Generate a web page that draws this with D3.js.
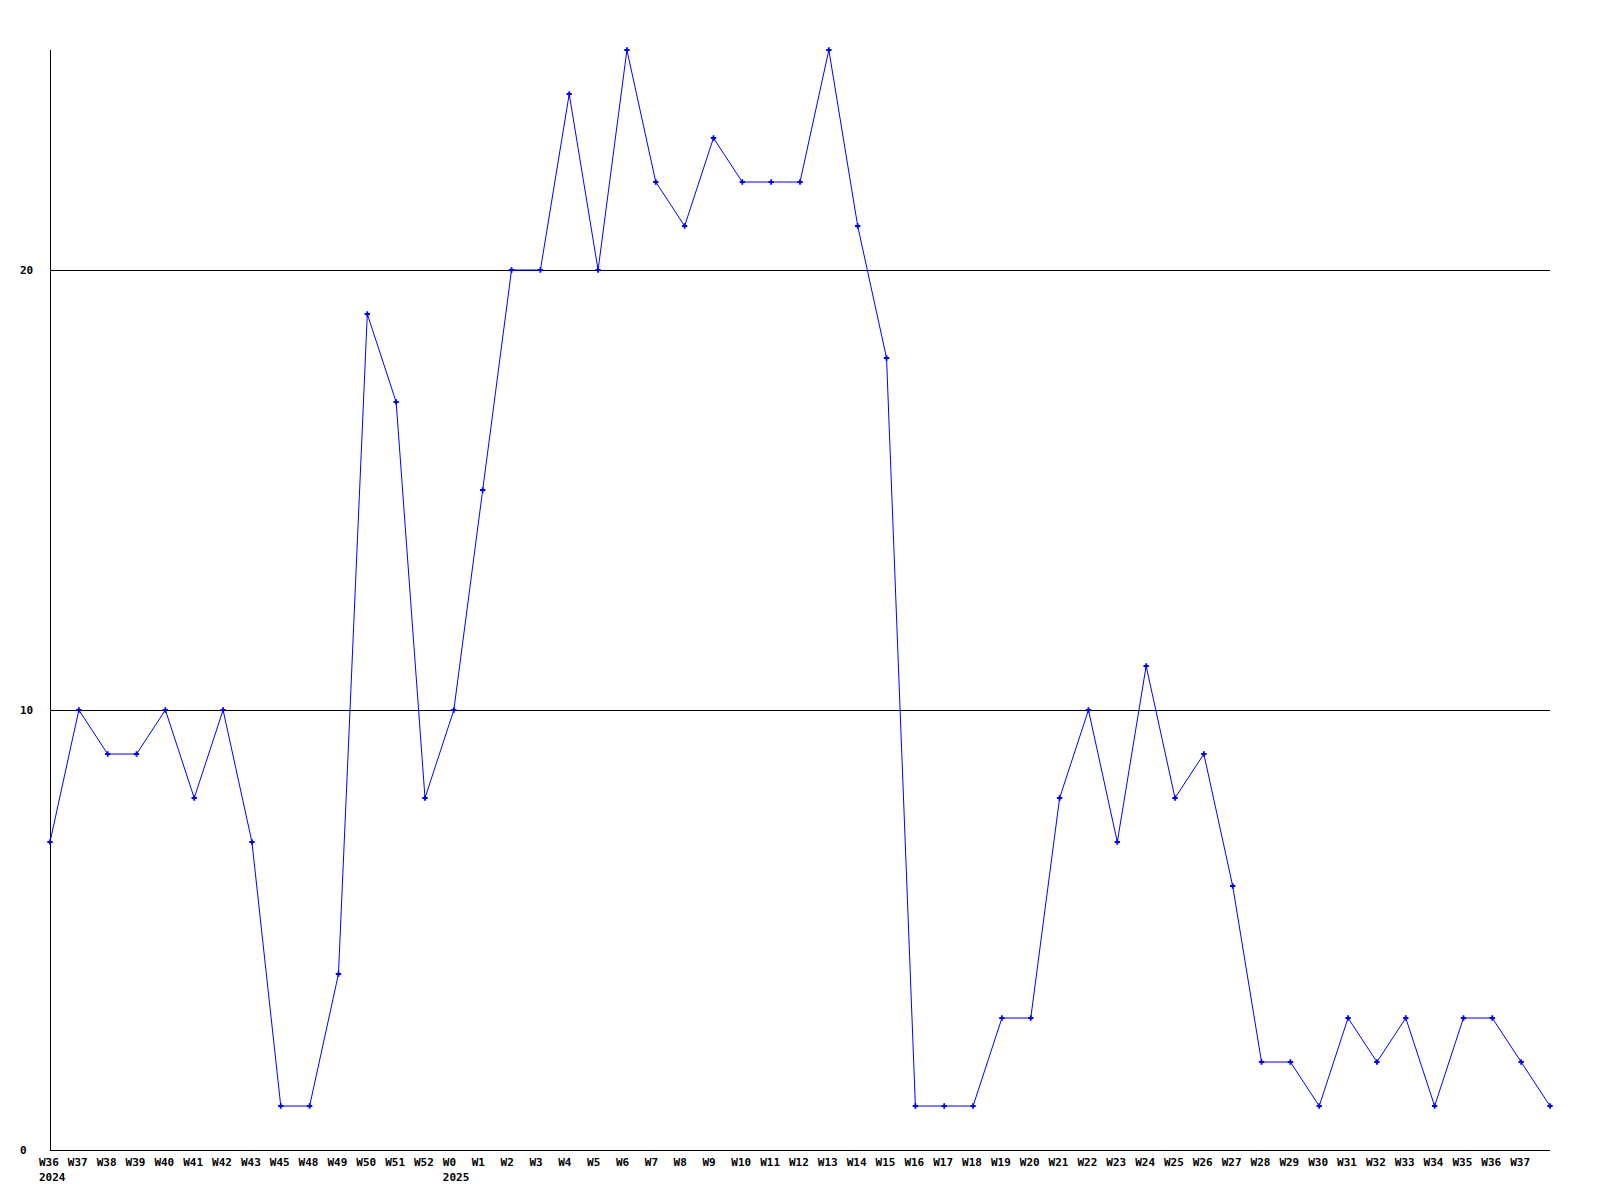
<!DOCTYPE html>
<html>
<head>
<meta charset="utf-8">
<script src="https://cdn.jsdelivr.net/npm/d3@7"></script>
<style>
  body { margin: 0; background: #fff; }
  text { font-family: "DejaVu Sans Mono", monospace; font-weight: bold; font-size: 11px; fill: #000; }
</style>
</head>
<body>
<div id="chart"></div>
<script>

// week labels, one per point (last point has no drawn label in the original)
var weeks = ["W36","W37","W38","W39","W40","W41","W42","W43","W45","W48","W49","W50","W51","W52",
             "W0","W1","W2","W3","W4","W5","W6","W7","W8","W9","W10","W11","W12","W13","W14","W15",
             "W16","W17","W18","W19","W20","W21","W22","W23","W24","W25","W26","W27","W28","W29",
             "W30","W31","W32","W33","W34","W35","W36","W37","W38"];

var counts = [7,10,9,9,10,8,10,7,1,1,4,19,17,8,
              10,15,20,20,24,20,25,22,21,23,22,22,22,25,21,18,
              1,1,1,3,3,8,10,7,11,8,9,6,2,2,
              1,3,2,3,1,3,3,2,1];

// year label goes under the week where the year starts
var yearIndex = [0, 14];
var yearText = ["2024", "2025"];

var yTicks = [0, 10, 20];
var gridValues = [10, 20];

var width = 1600, height = 1200;

var svg = d3.select('#chart').append('svg')
            .attr('width', width)
            .attr('height', height);

var x = d3.scalePoint()
          .domain(d3.range(weeks.length))
          .range([50, 1550]);

var y = d3.scaleLinear()
          .domain([0, 25])
          .range([1150, 50]);

// grid lines
svg.selectAll('.grid')
   .data(gridValues)
   .enter().append('line')
   .attr('x1', x(0)).attr('x2', x(weeks.length - 1))
   .attr('y1', function(d){ return y(d) + 0.5; })
   .attr('y2', function(d){ return y(d) + 0.5; })
   .attr('stroke', '#000')
   .attr('stroke-width', 1);

// axes lines
svg.append('line')
   .attr('x1', x(0) + 0.5).attr('x2', x(0) + 0.5)
   .attr('y1', y(25)).attr('y2', y(0))
   .attr('stroke', '#000');

svg.append('line')
   .attr('x1', x(0)).attr('x2', x(weeks.length - 1))
   .attr('y1', y(0) + 0.5).attr('y2', y(0) + 0.5)
   .attr('stroke', '#000');

// y labels
svg.selectAll('.ylab')
   .data(yTicks)
   .enter().append('text')
   .attr('x', 20)
   .attr('y', function(d){ return y(d); })
   .attr('dy', '.35em')
   .text(function(d){ return d; });

// x labels
svg.selectAll('.xlab')
   .data(weeks.slice(0, weeks.length - 1))
   .enter().append('text')
   .attr('x', function(d,i){ return x(i) - 11; })
   .attr('y', 1162)
   .attr('dy', '.35em')
   .text(function(d){ return d; });

svg.selectAll('.year')
   .data(yearIndex)
   .enter().append('text')
   .attr('x', function(d){ return x(d) - 11; })
   .attr('y', 1177)
   .attr('dy', '.35em')
   .text(function(d,i){ return yearText[i]; });

// line
var line = d3.line()
             .x(function(d,i){ return x(i); })
             .y(function(d){ return y(d); });

svg.append('path')
   .datum(counts)
   .attr('d', line)
   .attr('fill', 'none')
   .attr('stroke', '#0000ff')
   .attr('stroke-width', 1);

svg.selectAll('.marker')
   .data(counts)
   .enter().append('path')
   .attr('class', 'marker')
   .attr('transform', function(d,i){ return 'translate(' + x(i) + ',' + y(d) + ')'; })
   .attr('d', d3.symbol().type(d3.symbolCross).size(16))
   .attr('fill', '#0000ff');

</script>
</body>
</html>
